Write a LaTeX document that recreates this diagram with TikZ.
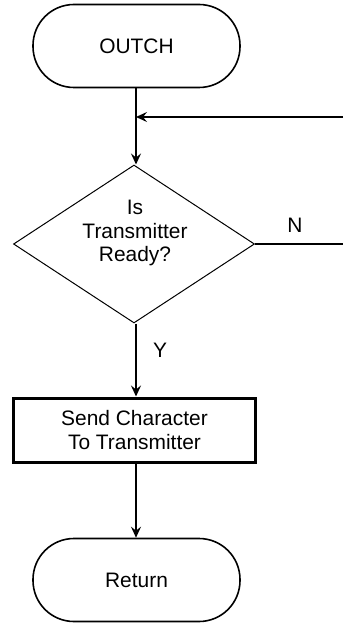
\documentclass[tikz,border=0pt]{standalone}
\usepackage{fontspec}
\setmainfont{Liberation Sans}
\usetikzlibrary{arrows.meta,shapes.geometric}
\begin{document}
\begin{tikzpicture}[x=1bp,y=-1bp,
  every node/.style={font=\fontsize{21}{24}\selectfont, inner sep=0pt},
  term/.style={draw, line width=1.6bp, rounded corners=41bp, minimum width=207bp, minimum height=83bp},
  decide/.style={draw, diamond, line width=1bp, minimum width=241bp, minimum height=158bp},
  proc/.style={draw, line width=3bp, minimum width=242bp, minimum height=64bp, align=center},
  flow/.style={line width=1.6bp, -{Stealth[length=11bp,width=10bp,inset=4bp]}},
  plain/.style={line width=1.6bp},
  lbl/.style={anchor=center}]
\useasboundingbox (0,0) rectangle (343,623);
\node[term] (start) at (136.5,46) {OUTCH};
\node[decide] (dec) at (134,244) {};
\node[align=center] (dectext) at (135,233) {Is\\Transmitter\\Ready?};
\node[proc] (send) at (134.5,430) {Send Character\\To Transmitter};
\node[term] (ret) at (136.5,580) {Return};
\coordinate (join) at (136,117);
\coordinate (rin) at (343,117);
\coordinate (rout) at (343,244);
\draw[plain] (start.south -| join) -- (join);
\draw[flow] (join) -- (dec.north -| join);
\draw[flow] (rin) -- (join);
\draw[plain] (dec.east) -- (rout);
\draw[flow] (dec.south -| join) -- (send.north -| join);
\draw[flow] (send.south -| join) -- (ret.north -| join);
\node[lbl] (nlbl) at (295,225) {N};
\node[lbl] (ylbl) at (160,350) {Y};
\end{tikzpicture}
\end{document}
